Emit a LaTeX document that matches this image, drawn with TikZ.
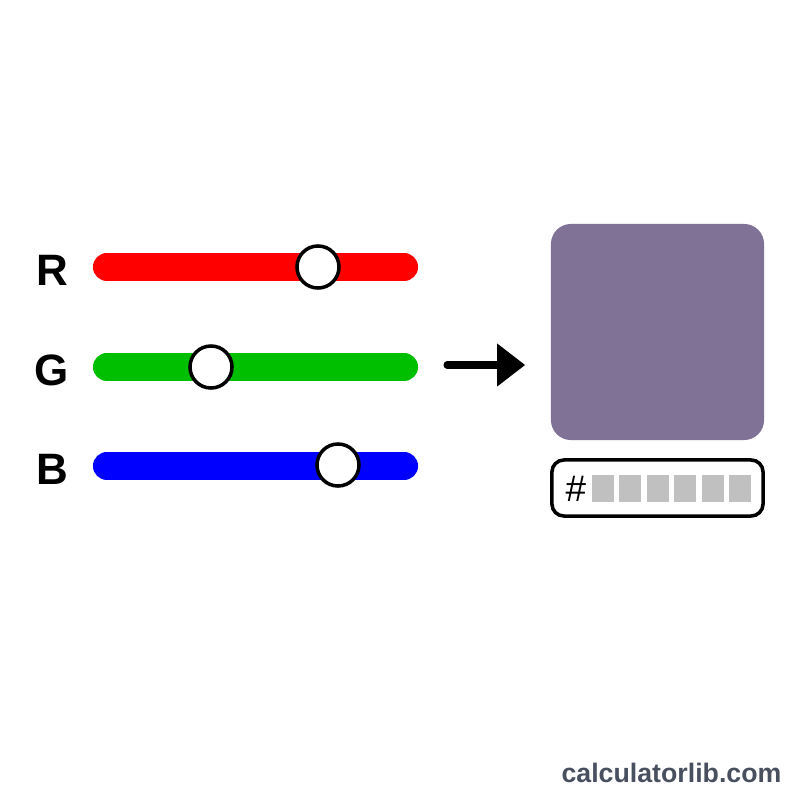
\documentclass[tikz,border=0pt]{standalone}
\usepackage{fontspec}
\setmainfont{Liberation Sans}
\usetikzlibrary{arrows.meta}
\definecolor{swatchpurple}{RGB}{128,114,150}
\definecolor{hexgray}{RGB}{192,192,192}
\definecolor{markgray}{RGB}{72,79,94}
\definecolor{barred}{RGB}{255,0,0}
\definecolor{bargreen}{RGB}{0,190,0}
\definecolor{barblue}{RGB}{0,0,255}

\begin{document}
\begin{tikzpicture}[
  x=0.01cm,y=-0.01cm,
  lbl/.style={font=\fontsize{12.5}{12.5}\selectfont\bfseries,anchor=center},
  bar/.style={line width=8pt,line cap=round},
  knob/.style={circle,draw,fill=white,inner sep=0pt,minimum size=0.42cm,line width=1pt},
  cell/.style={fill=hexgray,draw=none,inner sep=0pt,minimum width=0.22cm,minimum height=0.27cm}
]
  \useasboundingbox (0,0) rectangle (800,800);
  % channel labels
  \node[lbl] (lr) at (52,270) {R};
  \node[lbl] (lg) at (52,370) {G};
  \node[lbl] (lb) at (52,469) {B};
  % slider tracks
  \coordinate (rs) at (107,267); \coordinate (re) at (404,267);
  \coordinate (gs) at (107,367); \coordinate (ge) at (404,367);
  \coordinate (bs) at (107,466); \coordinate (be) at (404,466);
  \draw[bar,barred] (rs)--(re);
  \draw[bar,bargreen] (gs)--(ge);
  \draw[bar,barblue] (bs)--(be);
  % knobs
  \node[knob] (kr) at (318,267) {};
  \node[knob] (kg) at (211,367) {};
  \node[knob] (kb) at (338,465) {};
  % result
  \node[fill=swatchpurple,rounded corners=5.7pt,inner sep=0pt,
        minimum width=2.13cm,minimum height=2.16cm] (sw) at (657.5,332) {};
  \coordinate (as) at (447,365);
  \draw[line width=2pt,line cap=round,-{Triangle[length=0.28cm,width=0.41cm]},shorten >=0.25cm]
    (as)--(as-|sw.west);
  \node[draw,line width=1pt,rounded corners=3.4pt,inner sep=0pt,
        minimum width=2.11cm,minimum height=0.56cm] (hx) at (657.5,488) {};
  \node[font=\fontsize{10.5}{10.5}\selectfont] (hs) at (576,489) {\#};
  \node[cell] (c1) at (603,488.5) {};
  \node[cell] (c2) at (630.4,488.5) {};
  \node[cell] (c3) at (657.8,488.5) {};
  \node[cell] (c4) at (685.2,488.5) {};
  \node[cell] (c5) at (712.6,488.5) {};
  \node[cell] (c6) at (740,488.5) {};
  % watermark
  \node[font=\fontsize{7.6}{7.6}\selectfont\bfseries,text=markgray] (wm) at (671.5,773) {calculatorlib.com};
\end{tikzpicture}
\end{document}
